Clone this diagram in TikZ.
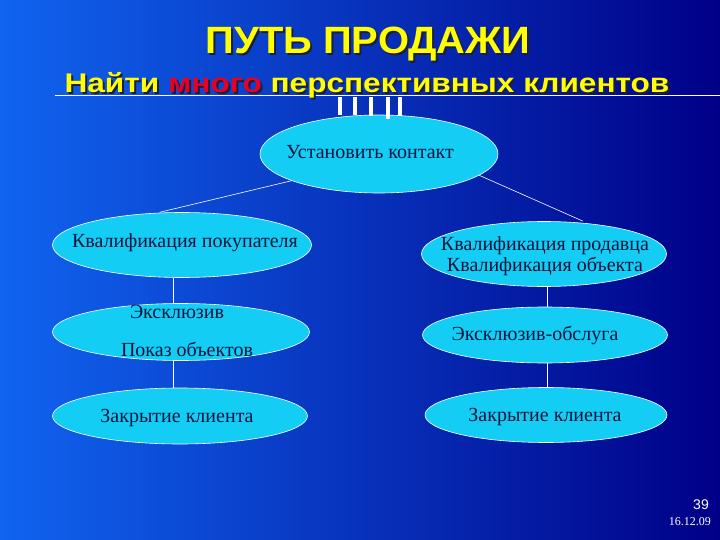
\documentclass[tikz,border=0pt]{standalone}
\usepackage{fontspec}
\setmainfont{Liberation Serif}
\newfontfamily\arialf{Liberation Sans}
\usetikzlibrary{shapes.geometric}
\definecolor{bgL}{RGB}{16,100,240}
\definecolor{bgR}{RGB}{0,0,135}
\definecolor{cyanfill}{RGB}{20,205,245}
\definecolor{navytext}{RGB}{10,20,60}
\definecolor{titley}{RGB}{255,255,0}
\definecolor{redw}{RGB}{230,0,40}
\definecolor{shadowc}{RGB}{30,30,60}
\tikzset{
  oval/.style={ellipse, draw=white, line width=0.6pt, fill=cyanfill, inner sep=0pt},
  conn/.style={draw=white, line width=0.6pt},
  txt/.style={text=navytext, font=\fontsize{20}{22}\selectfont, inner sep=0pt},
  titlef/.style={font=\arialf\bfseries\fontsize{38}{40}\selectfont, inner sep=0pt},
  subf/.style={font=\arialf\bfseries\fontsize{27}{30}\selectfont, inner sep=0pt, anchor=base}
}
\begin{document}
\begin{tikzpicture}[x=1pt,y=-1pt]
\useasboundingbox (0,0) rectangle (720,540);
\shade[left color=bgL, right color=bgR] (0,0) rectangle (720,540);
% title
\node (titles) [titlef, text=shadowc] at (370,46) {\scalebox{1.05}[1]{ПУТЬ ПРОДАЖИ}};
\node (title) [titlef, text=titley] at (368,44) {\scalebox{1.05}[1]{ПУТЬ ПРОДАЖИ}};
% subtitle line
\coordinate (la) at (55,95);
\coordinate (lb) at (720,95);
\draw[conn] (la) -- (lb);
\node (subs) [subf, text=shadowc] at (369,94.5) {\scalebox{1.17}[1]{Найти много перспективных клиентов}};
\node (sub) [subf] at (367,92.5) {\scalebox{1.17}[1]{\textcolor{titley}{Найти} \textcolor{redw}{много} \textcolor{titley}{перспективных клиентов}}};
% ellipses
\node (top) [oval, minimum width=238pt, minimum height=78pt] at (379,154) {};
\node (topt) [txt] at (370,152) {Установить контакт};
\node (l1) [oval, minimum width=259pt, minimum height=65pt] at (182,245) {};
\node (l1t) [txt] at (185,243) {Квалификация покупателя};
\node (l2) [oval, minimum width=257pt, minimum height=57pt] at (181,332) {};
\node (l2a) [txt] at (177,312) {Эксклюзив};
\node (l2b) [txt] at (187,349) {Показ объектов};
\node (l3) [oval, minimum width=255pt, minimum height=56pt] at (180,416) {};
\node (l3t) [txt] at (177,418) {Закрытие клиента};
\node (r1) [oval, minimum width=245pt, minimum height=65pt] at (544,254) {};
\node (r1t) [txt, align=center, font=\fontsize{20}{21}\selectfont] at (545,256) {Квалификация продавца\\Квалификация объекта};
\node (r2) [oval, minimum width=245pt, minimum height=56pt] at (545,335) {};
\node (r2t) [txt] at (535,335) {Эксклюзив-обслуга};
\node (r3) [oval, minimum width=242pt, minimum height=55pt] at (546,415) {};
\node (r3t) [txt] at (545,417) {Закрытие клиента};
% bars
\fill[white] (338,97) rectangle (342,115);
\fill[white] (353,97) rectangle (357,115);
\fill[white] (369,97) rectangle (373,116);
\fill[white] (386,97) rectangle (390,119);
\fill[white] (398,97) rectangle (402,116);
% connectors
\draw[conn] (top.197) -- (l1.north -| 160,0);
\draw[conn] (top.348) -- (r1.north -| 583,0);
\draw[conn] (l1.south -| 173,0) -- (l2.north -| 173,0);
\draw[conn] (l2.south -| 173,0) -- (l3.north -| 173,0);
\draw[conn] (r1.south -| 547,0) -- (r2.north -| 547,0);
\draw[conn] (r2.south -| 547,0) -- (r3.north -| 547,0);
% footer
\node (pg) [text=white, font=\arialf\fontsize{14}{16}\selectfont, inner sep=0pt, anchor=east] at (709,505) {39};
\node (dt) [text=white, font=\fontsize{12}{14}\selectfont, inner sep=0pt, anchor=east] at (711,522) {16.12.09};
\end{tikzpicture}
\end{document}
